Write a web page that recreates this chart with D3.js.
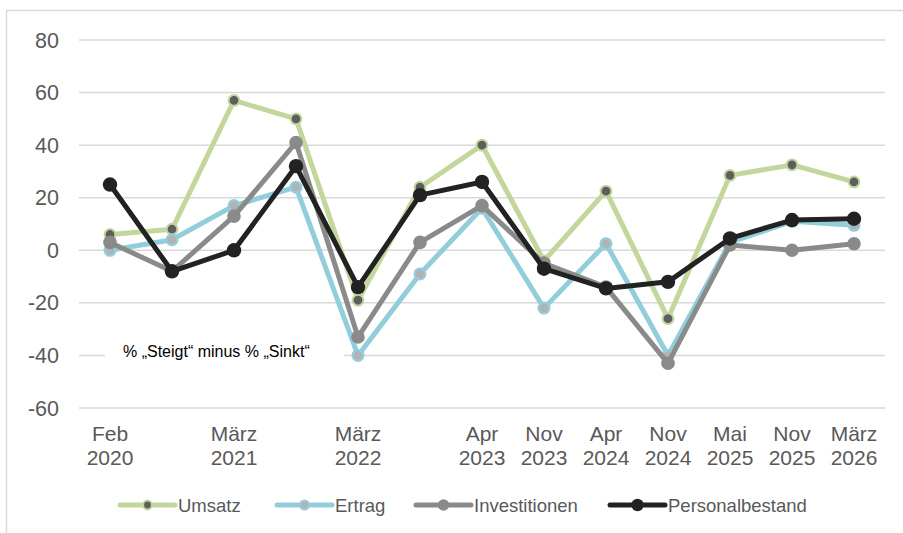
<!DOCTYPE html>
<html>
<head>
<meta charset="utf-8">
<script src="https://cdn.jsdelivr.net/npm/d3@7"></script>
<style>
  body { margin: 0; background: #fff; }
  svg { display: block; font-family: "Liberation Sans", Arial, sans-serif; }
</style>
</head>
<body>
<svg id="chart" width="903" height="533"></svg>
<script>
// Kategorien (leere Labels = Zwischenumfragen ohne Beschriftung)
const kategorien = [
  ["Feb", "2020"], ["", ""], ["März", "2021"], ["", ""], ["März", "2022"], ["", ""],
  ["Apr", "2023"], ["Nov", "2023"], ["Apr", "2024"], ["Nov", "2024"],
  ["Mai", "2025"], ["Nov", "2025"], ["März", "2026"]
];

// Saldo: % "Steigt" minus % "Sinkt"
const umsatz         = [6, 8, 57, 50, -19, 24, 40, -4, 22.5, -26, 28.5, 32.5, 26];
const ertrag         = [0, 4, 17, 24, -40, -9, 16, -22, 2.5, -40, 3, 11, 9.5];
const investitionen  = [3, -8, 13, 41, -33, 3, 17, -5, -14, -43, 2, 0, 2.5];
const personalbestand = [25, -8, 0, 32, -14, 21, 26, -7, -14.5, -12, 4.5, 11.5, 12];

const yTicks = [-60, -40, -20, 0, 20, 40, 60, 80];

// Darstellung je Reihe
const serien = [
  { name: "Umsatz", werte: umsatz, linie: "#c3d69b", fuell: "#5e5e5e", rand: "#c3d69b", r: 5.4, randBreite: 2 },
  { name: "Ertrag", werte: ertrag, linie: "#92cddc", fuell: "#b2b2b2", rand: "#92cddc", r: 5.4, randBreite: 2.2 },
  { name: "Investitionen", werte: investitionen, linie: "#8a8a8a", fuell: "#8a8a8a", rand: "#8a8a8a", r: 6.8, randBreite: 0 },
  { name: "Personalbestand", werte: personalbestand, linie: "#222222", fuell: "#222222", rand: "#222222", r: 7.2, randBreite: 0 }
];

const svg = d3.select("#chart");

// Rahmen
svg.append("path")
  .attr("d", "M6.5,533 V10.5 H903")
  .attr("fill", "none")
  .attr("stroke", "#d9d9d9")
  .attr("stroke-width", 1.5);

const x = d3.scalePoint()
  .domain(d3.range(kategorien.length))
  .range([110, 854]);

const y = d3.scaleLinear()
  .domain([-60, 80])
  .range([408, 40]);

// Gitterlinien
svg.append("g")
  .selectAll("line")
  .data(yTicks)
  .enter().append("line")
  .attr("x1", 79)
  .attr("x2", 885)
  .attr("y1", d => y(d))
  .attr("y2", d => y(d))
  .attr("stroke", "#d9d9d9")
  .attr("stroke-width", 1.5);

// Y-Achse Beschriftung
svg.append("g")
  .selectAll("text")
  .data(yTicks)
  .enter().append("text")
  .attr("x", 59)
  .attr("y", d => y(d) + 7.5)
  .attr("text-anchor", "end")
  .attr("font-size", "21.5px")
  .attr("fill", "#595959")
  .text(d => d);

// X-Achse Beschriftung
const xLabels = svg.append("g")
  .selectAll("text")
  .data(kategorien)
  .enter().append("text")
  .attr("text-anchor", "middle")
  .attr("font-size", "21px")
  .attr("fill", "#595959");
xLabels.append("tspan")
  .attr("x", (d, i) => x(i))
  .attr("y", 441)
  .text(d => d[0]);
xLabels.append("tspan")
  .attr("x", (d, i) => x(i))
  .attr("y", 465)
  .text(d => d[1]);

// Anmerkung mit weißem Hintergrund
svg.append("rect")
  .attr("x", 105)
  .attr("y", 342)
  .attr("width", 239)
  .attr("height", 20)
  .attr("fill", "#fff");
svg.append("text")
  .attr("x", 123)
  .attr("y", 357)
  .attr("font-size", "16px")
  .attr("fill", "#000")
  .text("% „Steigt“ minus % „Sinkt“");

// Linien und Marker
const line = d3.line()
  .x((d, i) => x(i))
  .y(d => y(d));

serien.forEach(s => {
  const g = svg.append("g");
  g.append("path")
    .datum(s.werte)
    .attr("d", line)
    .attr("fill", "none")
    .attr("stroke", s.linie)
    .attr("stroke-width", 5)
    .attr("stroke-linejoin", "round");
  g.selectAll("circle")
    .data(s.werte)
    .enter().append("circle")
    .attr("cx", (d, i) => x(i))
    .attr("cy", d => y(d))
    .attr("r", s.r)
    .attr("fill", s.fuell)
    .attr("stroke", s.rand)
    .attr("stroke-width", s.randBreite);
});

// Legende
const legendPos = [120, 277, 416, 610];
const legende = svg.append("g")
  .selectAll("g")
  .data(serien)
  .enter().append("g")
  .attr("transform", (d, i) => `translate(${legendPos[i]},505)`);
legende.append("line")
  .attr("x1", 0).attr("x2", 55)
  .attr("stroke", d => d.linie)
  .attr("stroke-width", 5)
  .attr("stroke-linecap", "round");
legende.append("circle")
  .attr("cx", 27.5)
  .attr("r", d => d.r - 1)
  .attr("fill", d => d.fuell)
  .attr("stroke", d => d.rand)
  .attr("stroke-width", d => d.randBreite);
legende.append("text")
  .attr("x", 58)
  .attr("y", 7)
  .attr("font-size", "18.5px")
  .attr("fill", "#595959")
  .text(d => d.name);
</script>
</body>
</html>
